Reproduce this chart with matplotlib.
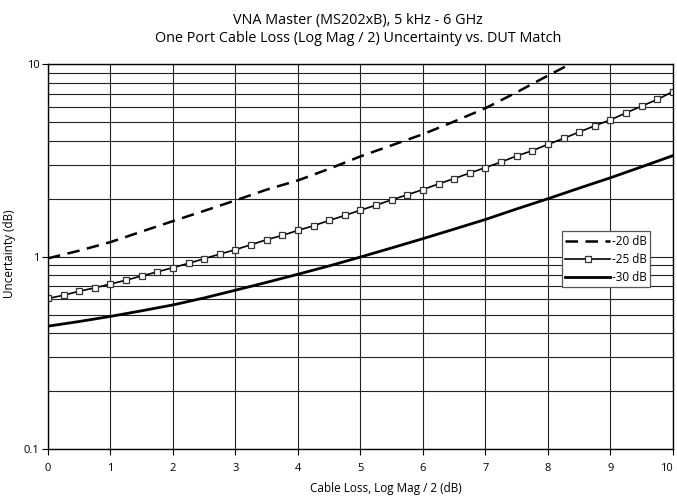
import numpy as np
import matplotlib
matplotlib.use("Agg")
import matplotlib.pyplot as plt
from matplotlib.ticker import LogLocator, NullFormatter, FixedLocator


# cable loss (dB) for each curve
loss_20 = [0, 0.5, 1, 1.5, 2, 2.5, 3, 3.5, 4, 4.5, 5, 5.5, 6, 6.5, 7, 7.5, 8, 8.35]
unc_20 = [0.98, 1.074, 1.19, 1.35, 1.53, 1.73, 1.96, 2.23, 2.49, 2.86, 3.32, 3.79,
          4.33, 5.04, 5.91, 7.15, 8.73, 10.0]

loss_25 = [0, 0.25, 0.5, 0.75, 1, 1.25, 1.5, 1.75, 2, 2.25, 2.5, 2.75, 3, 3.25,
           3.5, 3.75, 4, 4.25, 4.5, 4.75, 5, 5.25, 5.5, 5.75, 6, 6.25, 6.5, 6.75,
           7, 7.25, 7.5, 7.75, 8, 8.25, 8.5, 8.75, 9, 9.25, 9.5, 9.75, 10]
unc_25 = [0.606, 0.630, 0.661, 0.688, 0.721, 0.754, 0.794, 0.833, 0.877, 0.923,
          0.976, 1.031, 1.087, 1.154, 1.225, 1.289, 1.369, 1.447, 1.542, 1.637,
          1.744, 1.851, 1.974, 2.096, 2.232, 2.388, 2.545, 2.72, 2.902, 3.105,
          3.336, 3.554, 3.832, 4.117, 4.443, 4.79, 5.14, 5.59, 6.06, 6.56, 7.21]

loss_30 = [0, 0.5, 1, 1.5, 2, 2.5, 3, 3.5, 4, 4.5, 5, 5.5, 6, 6.5, 7, 7.5, 8, 8.5,
           9, 9.5, 10]
unc_30 = [0.435, 0.46, 0.489, 0.523, 0.561, 0.61, 0.669, 0.735, 0.81, 0.895, 0.995,
          1.11, 1.24, 1.39, 1.56, 1.77, 2.0, 2.27, 2.57, 2.93, 3.35]

labels = ["-20 dB", "-25 dB", "-30 dB"]
x_ticks = [0, 1, 2, 3, 4, 5, 6, 7, 8, 9, 10]


def plot():
    plt.rcParams['font.family'] = ['Open Sans', 'DejaVu Sans']
    fig = plt.figure(figsize=(6.77, 4.98), dpi=100)
    ax = fig.add_axes([0.0709, 0.0984, 0.9231, 0.7726])

    ax.set_yscale('log')
    ax.set_xlim(0, 10)
    ax.set_ylim(0.1, 10)

    ax.plot(loss_20, unc_20, color='black', lw=1.8, dashes=(5, 3), label=labels[0])
    ax.plot(loss_25, unc_25, color='black', lw=1.2, marker='s', ms=5,
            mfc='white', mec='#333333', mew=0.9, label=labels[1])
    ax.plot(loss_30, unc_30, color='black', lw=2.0, label=labels[2])

    ax.xaxis.set_major_locator(FixedLocator(x_ticks))
    ax.set_xticklabels([str(t) for t in x_ticks])
    ax.get_xticklabels()[-1].set_horizontalalignment('right')
    ax.yaxis.set_major_locator(FixedLocator([0.1, 1, 10]))
    ax.set_yticklabels(['0.1', '1', '10'])
    ax.yaxis.set_minor_locator(LogLocator(base=10, subs=np.arange(2, 10)))
    ax.yaxis.set_minor_formatter(NullFormatter())

    ax.grid(True, which='major', axis='both', color='#222222', lw=0.8)
    ax.grid(True, which='minor', axis='y', color='#222222', lw=0.8)
    ax.tick_params(axis='y', which='minor', length=0)
    ax.tick_params(axis='both', which='major', length=4, width=0.8,
                   labelsize=8, color='black', pad=6)
    ax.tick_params(axis='y', which='major', pad=2)
    for s in ax.spines.values():
        s.set_linewidth(1.0)
        s.set_color('black')

    leg = ax.legend(loc='upper left', bbox_to_anchor=(0.8224, 0.5658),
                    fontsize=8.5, handlelength=3.8, handletextpad=0.1,
                    borderpad=0.3, labelspacing=0.42, borderaxespad=0,
                    fancybox=False, framealpha=1, edgecolor='#555555',
                    markerscale=0.8)
    leg.get_frame().set_linewidth(0.9)

    fig.text(386 / 677, 1 - 488 / 498, "Cable Loss, Log Mag / 2 (dB)",
             ha='center', va='center', fontsize=8.5)
    fig.text(10 / 677, 1 - 254 / 498, "Uncertainty (dB)", rotation=90,
             ha='center', va='center', fontsize=8.5)

    fig.text(358 / 677, 1 - 20 / 498, "VNA Master (MS202xB), 5 kHz - 6 GHz",
             ha='center', va='center', fontsize=10.4)
    fig.text(358 / 677, 1 - 38 / 498,
             "One Port Cable Loss (Log Mag / 2) Uncertainty vs. DUT Match",
             ha='center', va='center', fontsize=10.4)

    fig.savefig("out.png", dpi=100)


def main():
    plot()


if __name__ == "__main__":
    main()
